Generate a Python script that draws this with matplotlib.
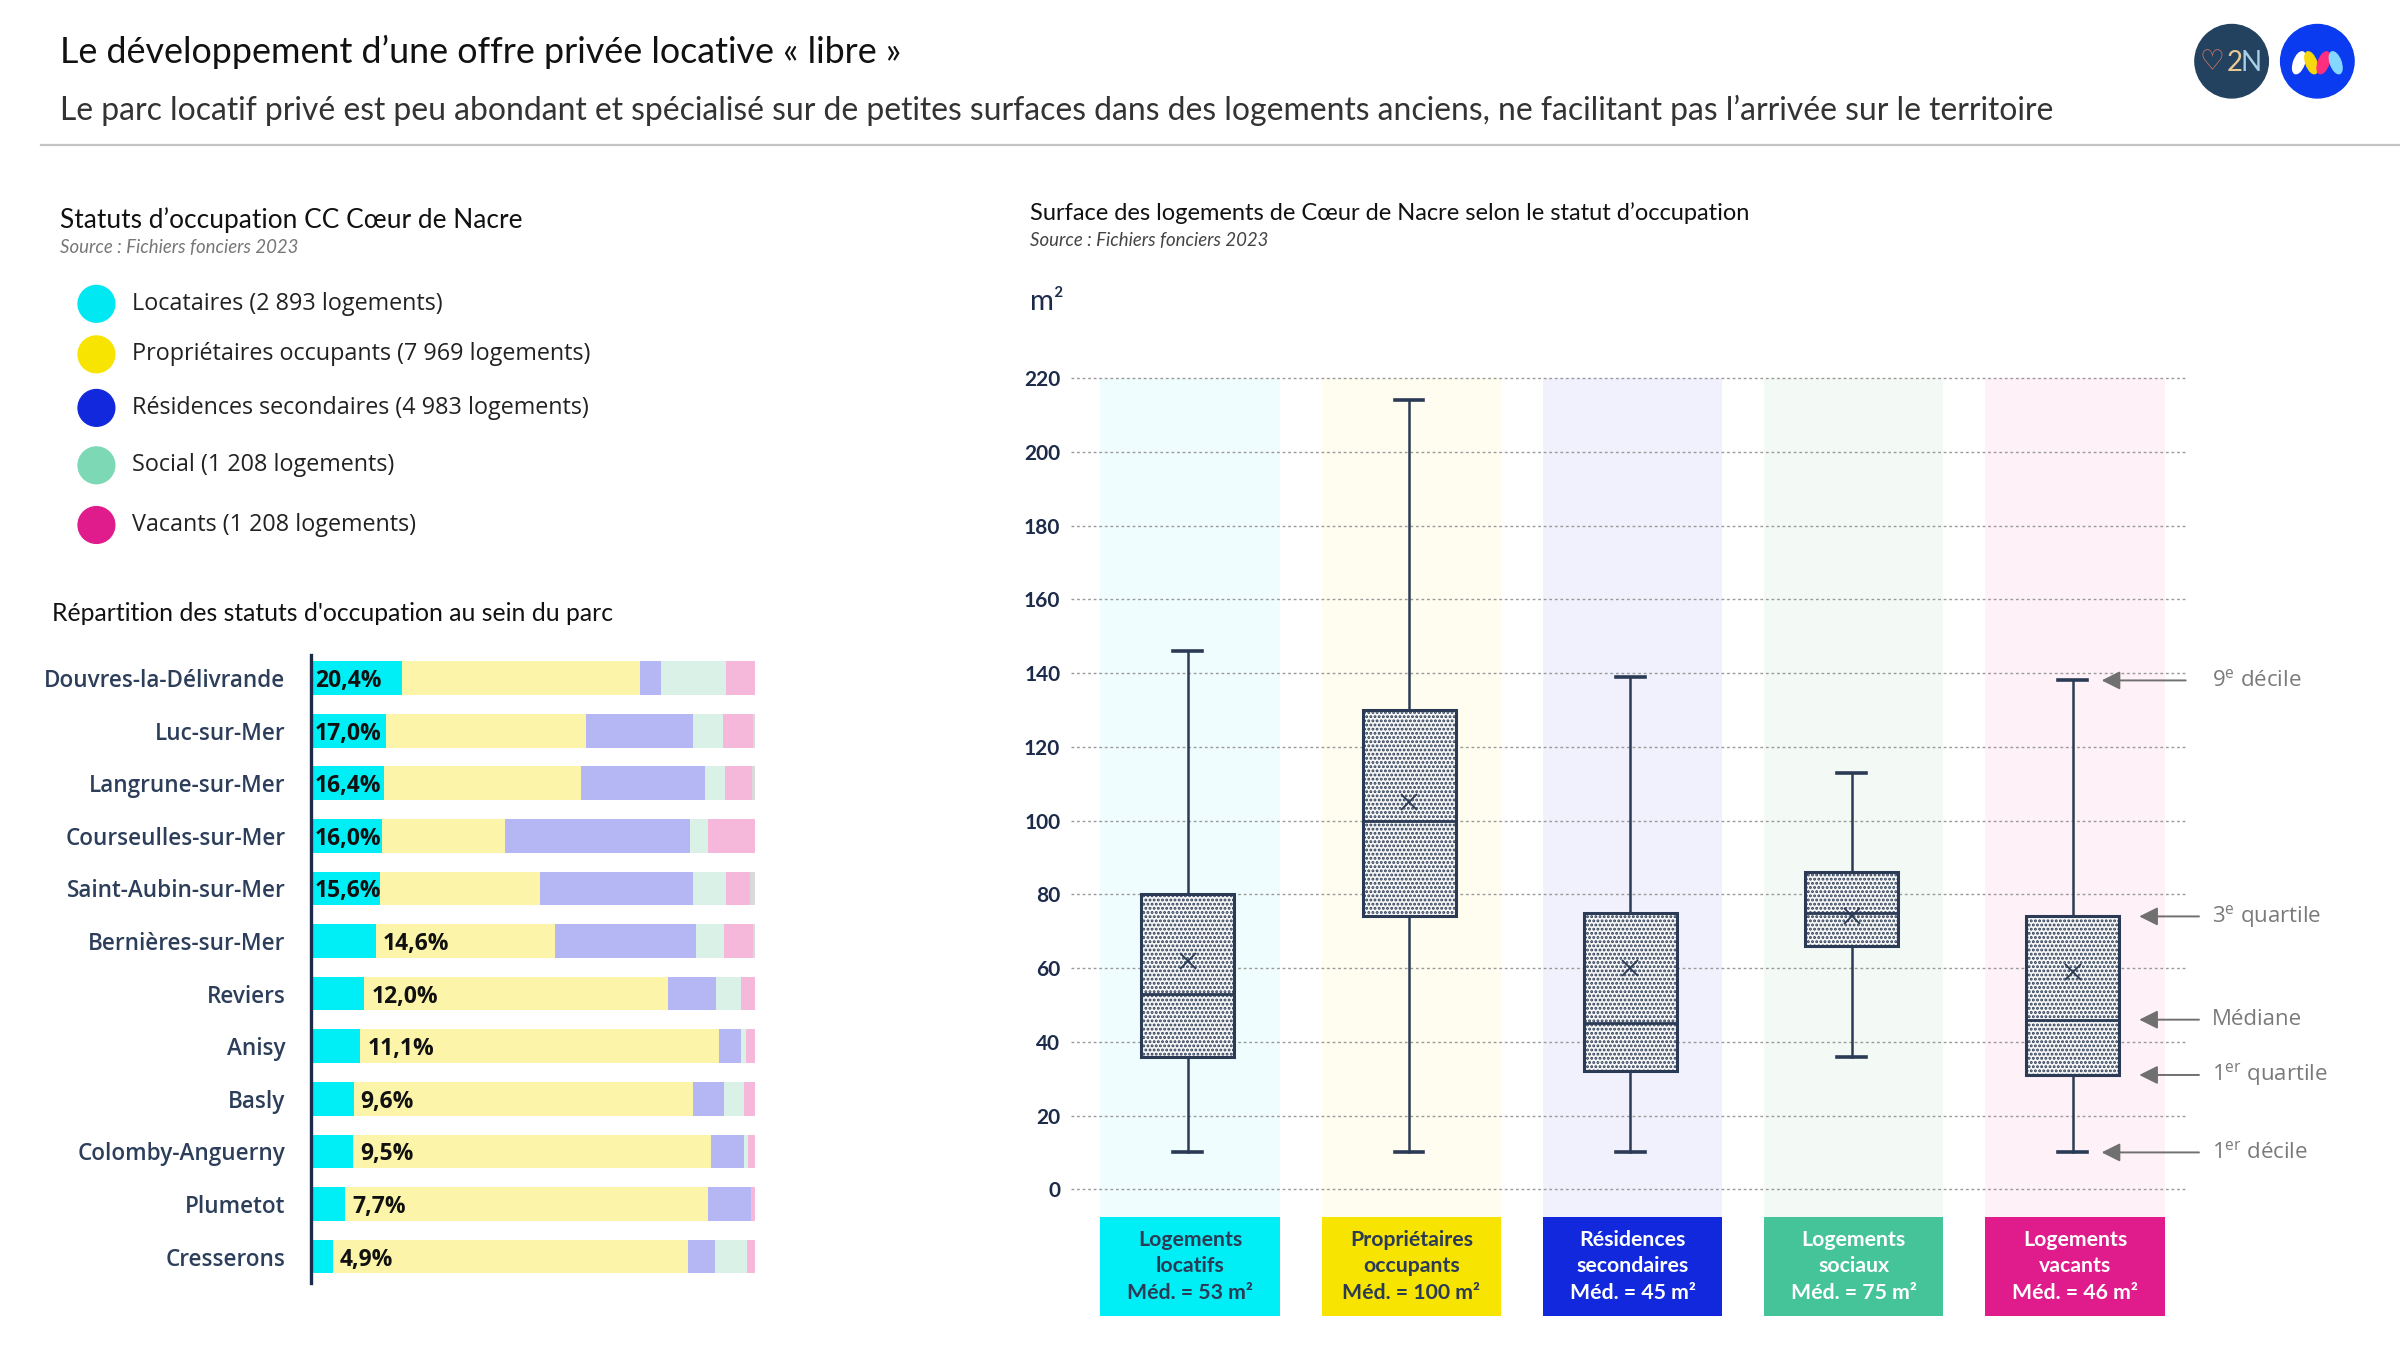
import matplotlib
matplotlib.use('Agg')
import matplotlib.pyplot as plt
from matplotlib.patches import Circle, Ellipse
from matplotlib.lines import Line2D
import numpy as np

# ------------------ data ------------------
legend_labels = ['Locataires', 'Propriétaires occupants', 'Résidences secondaires', 'Social', 'Vacants']
legend_logements = ['2 893', '7 969', '4 983', '1 208', '1 208']

communes = ['Douvres-la-Délivrande', 'Luc-sur-Mer', 'Langrune-sur-Mer', 'Courseulles-sur-Mer',
            'Saint-Aubin-sur-Mer', 'Bernières-sur-Mer', 'Reviers', 'Anisy', 'Basly',
            'Colomby-Anguerny', 'Plumetot', 'Cresserons']
part_locataires    = [20.4, 17.0, 16.4, 16.0, 15.6, 14.6, 12.0, 11.1, 9.6, 9.5, 7.7, 4.9]
part_proprietaires = [53.7, 44.9, 44.5, 27.7, 35.9, 40.4, 68.3, 80.8, 76.5, 80.5, 81.8, 79.9]
part_residences    = [4.7, 24.2, 27.8, 41.7, 34.5, 31.6, 10.9, 4.9, 7.0, 7.5, 9.7, 6.3]
part_social        = [14.7, 6.8, 4.6, 4.1, 7.4, 6.5, 5.6, 1.1, 4.4, 0.9, 0.0, 7.0]
part_vacants       = [6.5, 6.6, 6.1, 10.4, 5.4, 6.5, 3.2, 2.1, 2.5, 1.6, 0.8, 1.9]
part_autres        = [0.0, 0.5, 0.6, 0.1, 1.2, 0.4, 0.0, 0.0, 0.0, 0.0, 0.0, 0.0]

box_labels = ['Logements\nlocatifs', 'Propriétaires\noccupants', 'Résidences\nsecondaires',
              'Logements\nsociaux', 'Logements\nvacants']
decile_1   = [10, 10, 10, 36, 10]
quartile_1 = [36, 74, 32, 66, 31]
mediane    = [53, 100, 45, 75, 46]
quartile_3 = [80, 130, 75, 86, 74]
decile_9   = [146, 214, 139, 113, 138]
moyenne    = [62, 105, 60, 74, 59]
y_ticks = [0, 20, 40, 60, 80, 100, 120, 140, 160, 180, 200, 220]

annot_labels = [r'9$^{\mathregular{e}}$ décile', r'3$^{\mathregular{e}}$ quartile', 'Médiane',
                r'1$^{\mathregular{er}}$ quartile', r'1$^{\mathregular{er}}$ décile']

# ------------------ style ------------------
plt.rcParams['mathtext.fontset'] = 'custom'
plt.rcParams['mathtext.rm'] = 'Open Sans'
plt.rcParams['hatch.linewidth'] = 1.4
plt.rcParams['hatch.color'] = '#2b3b55'

TF = 'Lato'          # Calibri-like texts
LF = 'Open Sans'     # left panel texts
NAVY = '#2b3b55'
LBL = '#2c3e5a'

strong = ['#00e8f2', '#f7e400', '#1228dc', '#7dd8b6', '#e01b8c']
pale = ['#00eef6', '#fbf4a9', '#b5b7f4', '#d9f1e7', '#f5b8da', '#d9d9d9']
bands = ['#effdfe', '#fefdef', '#f1f1fd', '#f3faf6', '#fef1f7']
box_fill = ['#00eef6', '#f7e400', '#1228dc', '#45c49a', '#e01b8c']
box_txt = [NAVY, NAVY, 'white', 'white', 'white']

fig = plt.figure(figsize=(24, 13.5), dpi=100)
renderer = fig.canvas.get_renderer()
K = 2400 / 1568.0

ov = fig.add_axes([0, 0, 1, 1])
ov.set_xlim(0, 1568)
ov.set_ylim(882, 0)
ov.axis('off')


def T(x, y, s, x2=None, size=14, **kw):
    t = ov.text(x, y, s, fontsize=size, va='center', **kw)
    if x2 is not None:
        bb = t.get_window_extent(renderer=renderer)
        t.set_fontsize(size * (x2 - x) * K / bb.width)
    return t


# header
T(39, 34, 'Le développement d\u2019une offre privée locative « libre »', 592, family=TF, color='#111111')
T(39, 72, 'Le parc locatif privé est peu abondant et spécialisé sur de petites surfaces dans des logements anciens, '
          'ne facilitant pas l\u2019arrivée sur le territoire', 1346, family=TF, color='#333333')
ov.add_line(Line2D([27, 1568], [95, 95], color='#c4c4c4', lw=1.6))

# logos
ov.add_patch(Circle((1458, 40), 24, color='#23425f'))
ov.text(1445, 41, '\u2661', fontsize=20, color='#e27a62', ha='center', va='center', family='DejaVu Sans')
ov.text(1460, 41, '2', fontsize=20, color='#e9c994', ha='center', va='center', family=TF)
ov.text(1471, 41, 'N', fontsize=20, color='#a8cfe6', ha='center', va='center', family=TF)
ov.add_patch(Circle((1514, 40), 24, color='#0b3bf0'))
for px, c, a in zip([1502, 1510, 1518, 1526], ['white', '#f6d80c', '#ff2e7e', '#84d8ff'], [20, -20, 20, -20]):
    ov.add_patch(Ellipse((px, 41), 7, 15, angle=a, color=c))

# left legend
T(39, 144, 'Statuts d\u2019occupation CC Cœur de Nacre', 341, family=TF, color='#111111')
T(39, 162, 'Source : Fichiers fonciers 2023', 196, family=TF, style='italic', color='#777777')
leg_y = [198.5, 231.5, 266.5, 304, 343]
t0 = T(86, leg_y[0], f'{legend_labels[0]} ({legend_logements[0]} logements)', 290, family=LF, color='#222222')
fs_leg = t0.get_fontsize()
for i in range(5):
    ov.add_patch(Ellipse((63, leg_y[i]), 24, 24, color=strong[i]))
    if i > 0:
        T(86, leg_y[i], f'{legend_labels[i]} ({legend_logements[i]} logements)', size=fs_leg, family=LF, color='#222222')

T(34, 401, 'Répartition des statuts d\'occupation au sein du parc', 402, family=TF, color='#111111')

# stacked bars
ax1 = fig.add_axes([311 / 2400, 1 - 838 / 882, (755 - 311) / 2400, (838 - 428) / 882])
ypos = np.arange(len(communes))
series = [part_locataires, part_proprietaires, part_residences, part_social, part_vacants, part_autres]
left = np.zeros(len(communes))
for vals, col in zip(series, pale):
    ax1.barh(ypos, vals, left=left, height=0.64, color=col, zorder=2)
    left = left + np.array(vals)
ax1.set_xlim(0, 100)
ax1.set_ylim(11.495, -0.437)
for s in ['top', 'right', 'bottom']:
    ax1.spines[s].set_visible(False)
ax1.spines['left'].set_color('#1d2b4a')
ax1.spines['left'].set_linewidth(2.4)
ax1.set_xticks([])
ax1.set_yticks(ypos)
tmp = ov.text(0, 0, communes[0], fontsize=16, family=LF, fontweight='semibold')
fs_c = 16 * 243 / tmp.get_window_extent(renderer=renderer).width
tmp.remove()
ax1.set_yticklabels(communes, fontsize=fs_c, family=LF, fontweight='semibold', color=LBL)
ax1.tick_params(axis='y', length=0, pad=18.5)
for i, v in enumerate(part_locataires):
    lab = f'{v:.1f}%'.replace('.', ',')
    x = 0.9 if v >= 15 else v + 1.6
    ax1.text(x, i, lab, va='center_baseline', ha='left', fontsize=16.5, fontweight='bold',
             family=LF, color='#111111', zorder=3)

# right panel texts
T(673, 139, 'Surface des logements de Cœur de Nacre selon le statut d\u2019occupation', 1146, family=TF, color='#111111')
T(673, 157, 'Source : Fichiers fonciers 2023', 829, family=TF, style='italic', color='#444444')
T(673, 197, 'm²', size=21, family=TF, color='#1d2b4a')

# box plot
ax2 = fig.add_axes([700 / 1568, 1 - 860 / 882, (1428 - 700) / 1568, (860 - 240) / 882])
xs = np.arange(len(box_labels))
ax2.set_xlim(-0.526, 4.51)
ax2.set_ylim(-34.45, 222.9)
ax2.bar(xs + 0.01, 220 + 7.5, bottom=-7.5, width=0.81, color=bands, zorder=0)
ax2.bar(xs + 0.01, 34.45 - 7.47, bottom=-34.45, width=0.81, color=box_fill, zorder=0)
for i, lab in enumerate(box_labels):
    ax2.text(xs[i] + 0.01, -20.9, f'{lab}\nMéd. = {mediane[i]} m²', ha='center', va='center',
             fontsize=15.3, fontweight='bold', family=TF, color=box_txt[i], linespacing=1.42)
for t in y_ticks:
    ax2.axhline(t, color='#9a9a9a', lw=1.0, ls=(0, (2, 2)), zorder=1)
stats = [dict(med=mediane[i], q1=quartile_1[i], q3=quartile_3[i], whislo=decile_1[i],
              whishi=decile_9[i], mean=moyenne[i], fliers=[]) for i in range(len(box_labels))]
ax2.bxp(stats, positions=xs, widths=0.42, capwidths=0.13, showmeans=True, showfliers=False,
        patch_artist=True,
        boxprops=dict(facecolor='#f7f7f7', edgecolor=NAVY, hatch='....', linewidth=2.2),
        medianprops=dict(color=NAVY, linewidth=2.0),
        whiskerprops=dict(color=NAVY, linewidth=1.8),
        capprops=dict(color=NAVY, linewidth=2.6),
        meanprops=dict(marker='x', markeredgecolor=NAVY, markersize=12, markeredgewidth=1.3),
        zorder=3)
for a in ax2.spines.values():
    a.set_visible(False)
ax2.set_xticks([])
ax2.set_yticks(y_ticks)
ax2.set_yticklabels([str(v) for v in y_ticks], fontsize=15, fontweight='bold', family=TF, color='#1d2b4a')
ax2.tick_params(axis='y', length=0, pad=8)

# annotations on the last box
ann_vals = [decile_9[4], quartile_3[4], mediane[4], quartile_1[4], decile_1[4]]
ann_head = [4.13, 4.30, 4.30, 4.30, 4.13]
ann_tail = [4.51, 4.57, 4.57, 4.57, 4.57]
for lab, v, h, tl in zip(annot_labels, ann_vals, ann_head, ann_tail):
    ax2.annotate('', xy=(h, v), xytext=(tl, v), annotation_clip=False,
                 arrowprops=dict(arrowstyle='-|>', color='#707070', lw=1.4, mutation_scale=28,
                                 shrinkA=0, shrinkB=0))
    ax2.text(4.63, v, lab, va='center', ha='left', fontsize=16, family='Open Sans', color='#7a7a7a')

fig.savefig('out.png', dpi=100, facecolor='white')
